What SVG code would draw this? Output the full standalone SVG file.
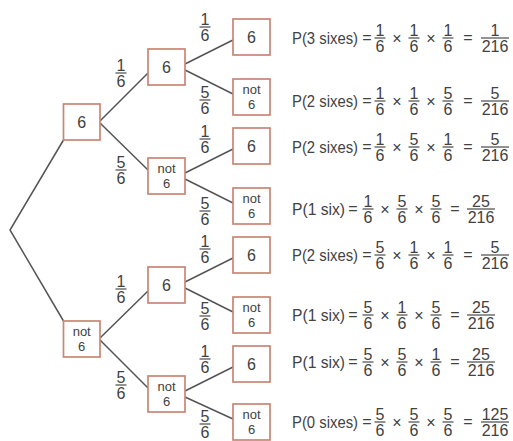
<svg xmlns="http://www.w3.org/2000/svg" xmlns:xlink="http://www.w3.org/1999/xlink" width="513" height="441" viewBox="0 0 513 441">
<style>
.box{fill:#fff;stroke:#c98676;stroke-width:1.7}
.t{font-family:"Liberation Sans",Arial,sans-serif;font-size:16px;fill:#424242;text-anchor:middle}
.nt{font-family:"Liberation Sans",Arial,sans-serif;font-size:13px;fill:#424242;text-anchor:middle}
.lbl{font-family:"Liberation Sans",Arial,sans-serif;font-size:16px;fill:#424242}
.bar{stroke:#4a4a4a;stroke-width:1.2}
.edge{stroke:#555;stroke-width:1.5;fill:none}
</style>
<defs>
<g id="f16"><text class="t" x="0" y="-2">1</text><line class="bar" x1="-5.5" y1="0" x2="5.5" y2="0"/><text class="t" x="0" y="14">6</text></g>
<g id="f56"><text class="t" x="0" y="-2">5</text><line class="bar" x1="-5.5" y1="0" x2="5.5" y2="0"/><text class="t" x="0" y="14">6</text></g>
<g id="r1"><text class="t" x="0" y="-2">1</text><line class="bar" x1="-14" y1="0" x2="14" y2="0"/><text class="t" x="0" y="14">216</text></g>
<g id="r5"><text class="t" x="0" y="-2">5</text><line class="bar" x1="-14" y1="0" x2="14" y2="0"/><text class="t" x="0" y="14">216</text></g>
<g id="r25"><text class="t" x="0" y="-2">25</text><line class="bar" x1="-14" y1="0" x2="14" y2="0"/><text class="t" x="0" y="14">216</text></g>
<g id="r125"><text class="t" x="0" y="-2">125</text><line class="bar" x1="-14" y1="0" x2="14" y2="0"/><text class="t" x="0" y="14">216</text></g>
</defs>
<rect width="513" height="441" fill="#fff"/>

<g id="connectors">
<path class="edge" d="M63.5,140 L10,230 L63.5,321"/>
<path class="edge" d="M100,121 L148,73 M100,123 L148,170"/>
<path class="edge" d="M100,338 L148,291 M100,340 L148,388"/>
<path class="edge" d="M185,64 L233,40 M185,70 L233,94"/>
<path class="edge" d="M185,173 L233,149 M185,179 L233,203"/>
<path class="edge" d="M185,282 L233,258 M185,288 L233,312"/>
<path class="edge" d="M185,391 L233,367 M185,397 L233,419"/>
</g>

<g id="edge-labels">
<use href="#f16" x="121" y="73"/>
<use href="#f56" x="121" y="170"/>
<use href="#f16" x="121" y="289"/>
<use href="#f56" x="121" y="385"/>
<use href="#f16" x="205" y="27"/>
<use href="#f56" x="205" y="100"/>
<use href="#f16" x="205" y="139"/>
<use href="#f56" x="205" y="211"/>
<use href="#f16" x="205" y="249"/>
<use href="#f56" x="205" y="316"/>
<use href="#f16" x="205" y="359"/>
<use href="#f56" x="205" y="424"/>
</g>

<g id="n1"><rect class="box" x="63.5" y="104" width="36.5" height="36"/><text class="t" x="81.7" y="128">6</text></g>
<g id="n2"><rect class="box" x="63.5" y="321" width="36.5" height="36"/><text class="nt" x="81.7" y="336">not</text><text class="nt" x="81.7" y="351">6</text></g>

<g id="n11"><rect class="box" x="148" y="49" width="37" height="36"/><text class="t" x="166.5" y="73">6</text></g>
<g id="n12"><rect class="box" x="148" y="158" width="37" height="36"/><text class="nt" x="166.5" y="173">not</text><text class="nt" x="166.5" y="188">6</text></g>
<g id="n21"><rect class="box" x="148" y="267" width="37" height="36"/><text class="t" x="166.5" y="291">6</text></g>
<g id="n22"><rect class="box" x="148" y="376" width="37" height="36"/><text class="nt" x="166.5" y="391">not</text><text class="nt" x="166.5" y="406">6</text></g>

<g id="n111"><rect class="box" x="233" y="19" width="37" height="36"/><text class="t" x="251.5" y="43">6</text></g>
<g id="n112"><rect class="box" x="233" y="79" width="37" height="36"/><text class="nt" x="251.5" y="94">not</text><text class="nt" x="251.5" y="109">6</text></g>
<g id="n121"><rect class="box" x="233" y="128" width="37" height="36"/><text class="t" x="251.5" y="152">6</text></g>
<g id="n122"><rect class="box" x="233" y="188" width="37" height="36"/><text class="nt" x="251.5" y="203">not</text><text class="nt" x="251.5" y="218">6</text></g>
<g id="n211"><rect class="box" x="233" y="237" width="37" height="36"/><text class="t" x="251.5" y="261">6</text></g>
<g id="n212"><rect class="box" x="233" y="297" width="37" height="36"/><text class="nt" x="251.5" y="312">not</text><text class="nt" x="251.5" y="327">6</text></g>
<g id="n221"><rect class="box" x="233" y="346" width="37" height="36"/><text class="t" x="251.5" y="370">6</text></g>
<g id="n222"><rect class="box" x="233" y="404" width="37" height="36"/><text class="nt" x="251.5" y="419">not</text><text class="nt" x="251.5" y="434">6</text></g>

<g id="row1">
<text class="lbl" x="292" y="44" textLength="66" lengthAdjust="spacingAndGlyphs">P(3 sixes)</text>
<text class="t" x="367" y="43">=</text><use href="#f16" x="380" y="38"/><text class="t" x="397" y="44">×</text><use href="#f16" x="414" y="38"/><text class="t" x="431" y="44">×</text><use href="#f16" x="448" y="38"/><text class="t" x="468" y="43">=</text><use href="#r1" x="495" y="38"/>
</g>
<g id="row2">
<text class="lbl" x="292" y="107" textLength="66" lengthAdjust="spacingAndGlyphs">P(2 sixes)</text>
<text class="t" x="367" y="106">=</text><use href="#f16" x="380" y="101"/><text class="t" x="397" y="107">×</text><use href="#f16" x="414" y="101"/><text class="t" x="431" y="107">×</text><use href="#f56" x="448" y="101"/><text class="t" x="468" y="106">=</text><use href="#r5" x="495" y="101"/>
</g>
<g id="row3">
<text class="lbl" x="292" y="153" textLength="66" lengthAdjust="spacingAndGlyphs">P(2 sixes)</text>
<text class="t" x="367" y="152">=</text><use href="#f16" x="380" y="147"/><text class="t" x="397" y="153">×</text><use href="#f56" x="414" y="147"/><text class="t" x="431" y="153">×</text><use href="#f16" x="448" y="147"/><text class="t" x="468" y="152">=</text><use href="#r5" x="495" y="147"/>
</g>
<g id="row4">
<text class="lbl" x="292" y="215" textLength="53" lengthAdjust="spacingAndGlyphs">P(1 six)</text>
<text class="t" x="353" y="214">=</text><use href="#f16" x="368" y="209"/><text class="t" x="385" y="215">×</text><use href="#f56" x="402" y="209"/><text class="t" x="419" y="215">×</text><use href="#f56" x="436" y="209"/><text class="t" x="455" y="214">=</text><use href="#r25" x="481" y="209"/>
</g>
<g id="row5">
<text class="lbl" x="292" y="261" textLength="66" lengthAdjust="spacingAndGlyphs">P(2 sixes)</text>
<text class="t" x="367" y="260">=</text><use href="#f56" x="380" y="255"/><text class="t" x="397" y="261">×</text><use href="#f16" x="414" y="255"/><text class="t" x="431" y="261">×</text><use href="#f16" x="448" y="255"/><text class="t" x="468" y="260">=</text><use href="#r5" x="495" y="255"/>
</g>
<g id="row6">
<text class="lbl" x="292" y="321" textLength="53" lengthAdjust="spacingAndGlyphs">P(1 six)</text>
<text class="t" x="353" y="320">=</text><use href="#f56" x="368" y="315"/><text class="t" x="385" y="321">×</text><use href="#f16" x="402" y="315"/><text class="t" x="419" y="321">×</text><use href="#f56" x="436" y="315"/><text class="t" x="455" y="320">=</text><use href="#r25" x="481" y="315"/>
</g>
<g id="row7">
<text class="lbl" x="292" y="368" textLength="53" lengthAdjust="spacingAndGlyphs">P(1 six)</text>
<text class="t" x="353" y="367">=</text><use href="#f56" x="368" y="362"/><text class="t" x="385" y="368">×</text><use href="#f56" x="402" y="362"/><text class="t" x="419" y="368">×</text><use href="#f16" x="436" y="362"/><text class="t" x="455" y="367">=</text><use href="#r25" x="481" y="362"/>
</g>
<g id="row8">
<text class="lbl" x="292" y="428" textLength="66" lengthAdjust="spacingAndGlyphs">P(0 sixes)</text>
<text class="t" x="367" y="427">=</text><use href="#f56" x="380" y="422"/><text class="t" x="397" y="428">×</text><use href="#f56" x="414" y="422"/><text class="t" x="431" y="428">×</text><use href="#f56" x="448" y="422"/><text class="t" x="468" y="427">=</text><use href="#r125" x="495" y="422"/>
</g>
</svg>
